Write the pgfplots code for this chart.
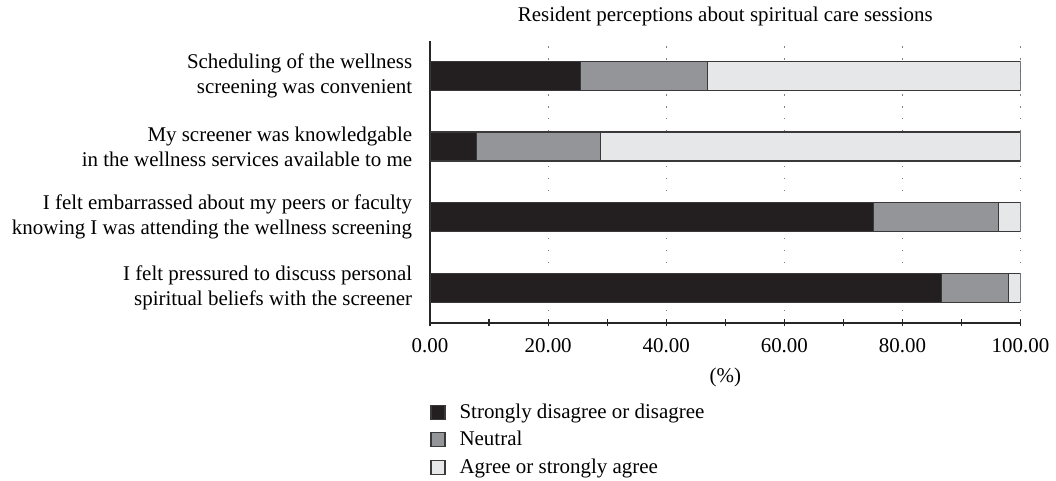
\documentclass[border=0pt]{standalone}
\usepackage{fontspec}
\setmainfont{Liberation Serif}
\usepackage{pgfplots}
\pgfplotsset{compat=1.18}

\definecolor{disagree}{HTML}{231F20}
\definecolor{neutral}{HTML}{939598}
\definecolor{agree}{HTML}{E6E7E8}
\definecolor{edge}{HTML}{3A3839}

\begin{document}
\begin{tikzpicture}[font=\fontsize{10.5}{12.5}\selectfont]
\begin{axis}[
    xbar stacked,
    width=296pt, height=141.5pt, scale only axis,
    xmin=0, xmax=100,
    ymin=-0.5, ymax=3.5,
    bar width=14.5pt,
    axis lines=left,
    axis line style={-, line width=0.6pt, color=black!85},
    title={Resident perceptions about spiritual care sessions},
    title style={yshift=-2pt},
    xlabel={(\%)},
    xlabel style={yshift=-1pt},
    xtick={0,20,...,100},
    minor x tick num=1,
    tick align=center,
    major tick length=3.5pt,
    minor tick length=3.5pt,
    x tick style={line width=0.6pt, color=black!85},
    xticklabel style={yshift=-2.5pt, /pgf/number format/.cd, fixed, fixed zerofill, precision=2},
    /pgf/number format/assume math mode=true,
    xmajorgrids,
    grid style={gray, line width=0.6pt, dash pattern=on 0.6pt off 5.4pt},
    ytick={0,1,2,3},
    y tick style={draw=none},
    yticklabels={
      {I felt pressured to discuss personal\\spiritual beliefs with the screener},
      {I felt embarrassed about my peers or faculty\\knowing I was attending the wellness screening},
      {My screener was knowledgable\\in the wellness services available to me},
      {Scheduling of the wellness\\screening was convenient}},
    yticklabel style={align=right, inner xsep=6pt, xshift=-1pt},
    legend style={at={(rel axis cs:0,-0.27)}, anchor=north west, draw=none,
      inner sep=0pt, row sep=1pt, legend cell align=left,
      /tikz/every odd column/.append style={column sep=5pt}},
    legend image code/.code={\draw[#1] (0pt,-3.5pt) rectangle (7pt,3.5pt);},
    every axis plot/.append style={draw=edge, line width=0.6pt},
]
\addplot[fill=disagree] coordinates {(86.6,0) (75.1,1) (7.8,2) (25.5,3)};
\addplot[fill=neutral] coordinates {(11.4,0) (21.1,1) (21.0,2) (21.5,3)};
\addplot[fill=agree] coordinates {(2.0,0) (3.8,1) (71.2,2) (53.0,3)};
\legend{Strongly disagree or disagree, Neutral, Agree or strongly agree}
\end{axis}
\end{tikzpicture}
\end{document}
